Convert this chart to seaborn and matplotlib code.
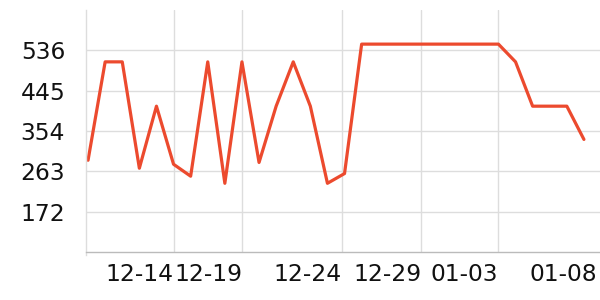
import matplotlib
matplotlib.use("Agg")
import matplotlib.pyplot as plt
import seaborn as sns
import pandas as pd
import numpy as np

values = [288, 510, 510, 270, 410, 279, 252, 510, 236, 510,
          283, 410, 510, 410, 236, 258, 550, 550, 550, 550,
          550, 550, 550, 550, 550, 510, 410, 410, 410, 335]
y_ticks = [172, 263, 354, 445, 536]
tick_labels = ["12-14", "12-19", "12-24", "12-29", "01-03", "01-08"]
tick_positions = [5, 9, 14.85, 19.5, 24, 29.8]

df = pd.DataFrame({"idx": np.arange(len(values)), "value": values})

sns.set_style("white")
plt.rcParams["font.family"] = ["DejaVu Sans"]

fig = plt.figure(figsize=(6, 3), dpi=100)
ax = fig.add_axes([86 / 600, 1 - 252 / 300, 1 - 86 / 600, (252 - 10) / 300])

sns.lineplot(data=df, x="idx", y="value", ax=ax, color="#ec4a2e", linewidth=2.3)

ax.set_xlim(-0.12, 29.94)
ax.set_ylim(81, 627)
ax.set_yticks(y_ticks)
ax.set_yticklabels([str(v) for v in y_ticks], fontsize=16.8, color="#111111")
ax.set_xticks(tick_positions)
ax.set_xticklabels(tick_labels, fontsize=16.8, color="#111111", ha="right")
ax.set_xlabel("")
ax.set_ylabel("")

ax.grid(True, color="#dddddd", linewidth=1)
ax.set_axisbelow(True)
ax.get_xgridlines()[-1].set_visible(False)

ax.tick_params(axis="y", length=3, width=1, color="#dddddd", pad=12)
ax.tick_params(axis="x", length=0, pad=8)

for s in ["top", "right"]:
    ax.spines[s].set_visible(False)
ax.spines["left"].set_color("#dddddd")
ax.spines["left"].set_linewidth(1)
ax.spines["left"].set_bounds(74, 627)
ax.spines["bottom"].set_color("#bbbbbb")
ax.spines["bottom"].set_linewidth(1)

fig.savefig("out.png", dpi=100)
